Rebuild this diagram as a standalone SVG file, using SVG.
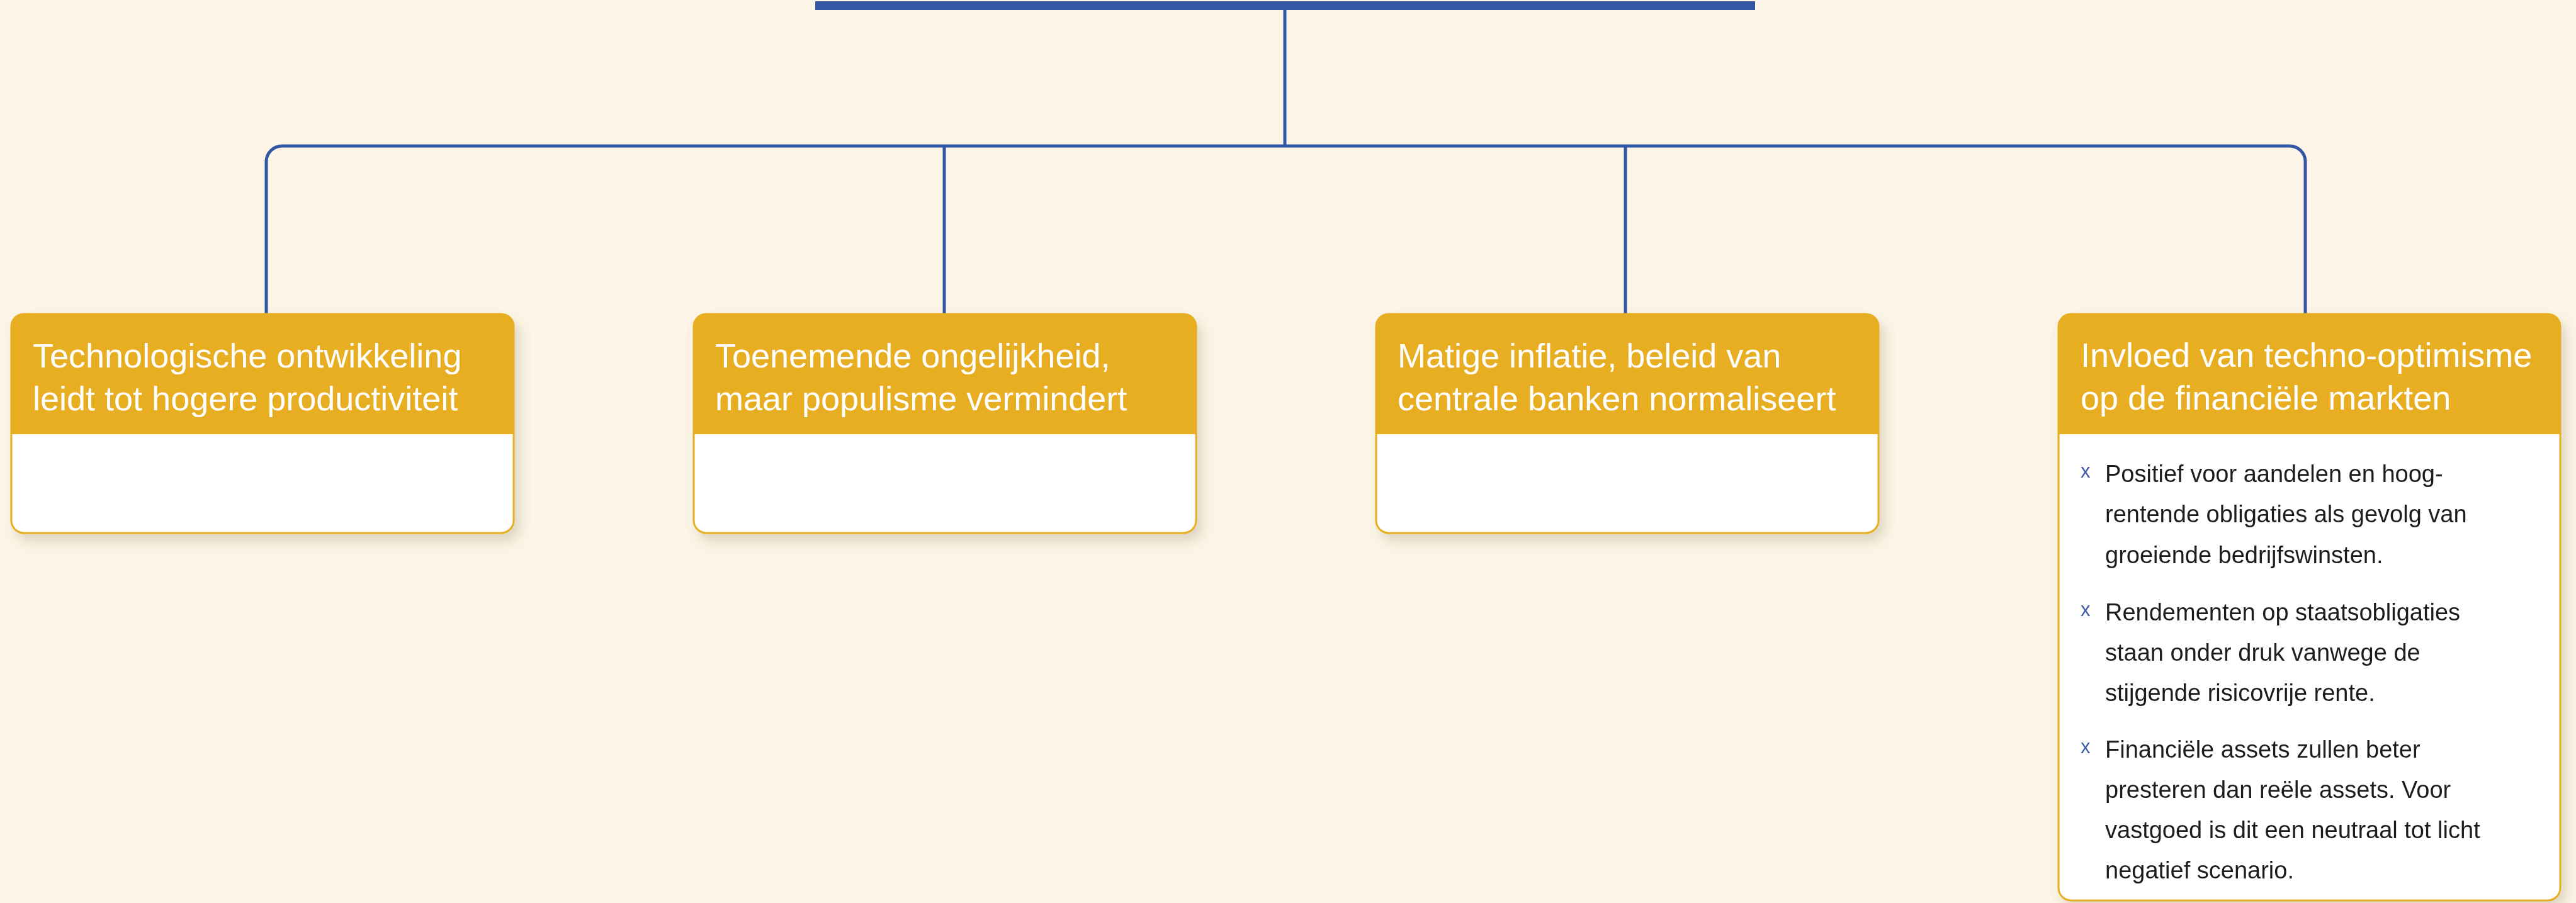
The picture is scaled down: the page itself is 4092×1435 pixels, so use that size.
<svg xmlns="http://www.w3.org/2000/svg" width="4092" height="1435" viewBox="0 0 4092 1435">
<style>
.conn{fill:none;stroke:#3457A5;stroke-width:5}
.body{fill:#FFFFFF;stroke:#E8AE24;stroke-width:3}
.head{fill:#E8AE24}
.ht{font-family:"Liberation Sans",Arial,sans-serif;font-size:54px;fill:#FFFFFF}
.bt{font-family:"Liberation Sans",Arial,sans-serif;font-size:38px;fill:#1E1E1E}
.bx{font-family:"Liberation Sans",Arial,sans-serif;font-size:31px;fill:#3F5DAB}
</style>
<defs>
<filter id="sh" x="-10%" y="-10%" width="125%" height="130%">
<feDropShadow dx="8" dy="12" stdDeviation="10" flood-color="#6b5a3a" flood-opacity="0.22"/>
</filter>
</defs>
<rect width="4092" height="1435" fill="#FDF6E8"/>
<g id="top-bar">
<rect x="1295" y="2" width="1493" height="14" fill="#3457A5"/>
</g>
<g id="connectors">
<path class="conn" d="M2041,16 V232"/>
<path class="conn" d="M423,498 V257 A25,25 0 0 1 448,232 H3637 A25,25 0 0 1 3662,257 V498"/>
<path class="conn" d="M1500,232 V498"/>
<path class="conn" d="M2582,232 V498"/>
</g>
<g id="node1" filter="url(#sh)">
<rect class="body" x="18" y="499" width="798" height="348" rx="20"/>
<path class="head" d="M18,690 V519 A20,20 0 0 1 38,499 H796 A20,20 0 0 1 816,519 V690 Z"/>
<text class="ht" x="52" y="584">Technologische ontwikkeling</text>
<text class="ht" x="52" y="652">leidt tot hogere productiviteit</text>
</g>
<g id="node2" filter="url(#sh)">
<rect class="body" x="1102" y="499" width="798" height="348" rx="20"/>
<path class="head" d="M1102,690 V519 A20,20 0 0 1 1122,499 H1880 A20,20 0 0 1 1900,519 V690 Z"/>
<text class="ht" x="1136" y="584">Toenemende ongelijkheid,</text>
<text class="ht" x="1136" y="652">maar populisme vermindert</text>
</g>
<g id="node3" filter="url(#sh)">
<rect class="body" x="2186" y="499" width="798" height="348" rx="20"/>
<path class="head" d="M2186,690 V519 A20,20 0 0 1 2206,499 H2964 A20,20 0 0 1 2984,519 V690 Z"/>
<text class="ht" x="2220" y="584">Matige inflatie, beleid van</text>
<text class="ht" x="2220" y="652">centrale banken normaliseert</text>
</g>
<g id="node4" filter="url(#sh)">
<rect class="body" x="3270" y="499" width="797" height="932" rx="20"/>
<path class="head" d="M3270,690 V519 A20,20 0 0 1 3290,499 H4047 A20,20 0 0 1 4067,519 V690 Z"/>
<text class="ht" x="3305" y="583">Invloed van techno-optimisme</text>
<text class="ht" x="3305" y="651">op de financiële markten</text>
<text class="bx" x="3305" y="759">x</text>
<text class="bt" x="3344" y="766">Positief voor aandelen en hoog-</text>
<text class="bt" x="3344" y="830">rentende obligaties als gevolg van</text>
<text class="bt" x="3344" y="895">groeiende bedrijfswinsten.</text>
<text class="bx" x="3305" y="979">x</text>
<text class="bt" x="3344" y="986">Rendementen op staatsobligaties</text>
<text class="bt" x="3344" y="1050">staan onder druk vanwege de</text>
<text class="bt" x="3344" y="1114">stijgende risicovrije rente.</text>
<text class="bx" x="3305" y="1197">x</text>
<text class="bt" x="3344" y="1204">Financiële assets zullen beter</text>
<text class="bt" x="3344" y="1268">presteren dan reële assets. Voor</text>
<text class="bt" x="3344" y="1332">vastgoed is dit een neutraal tot licht</text>
<text class="bt" x="3344" y="1396">negatief scenario.</text>
</g>
</svg>
